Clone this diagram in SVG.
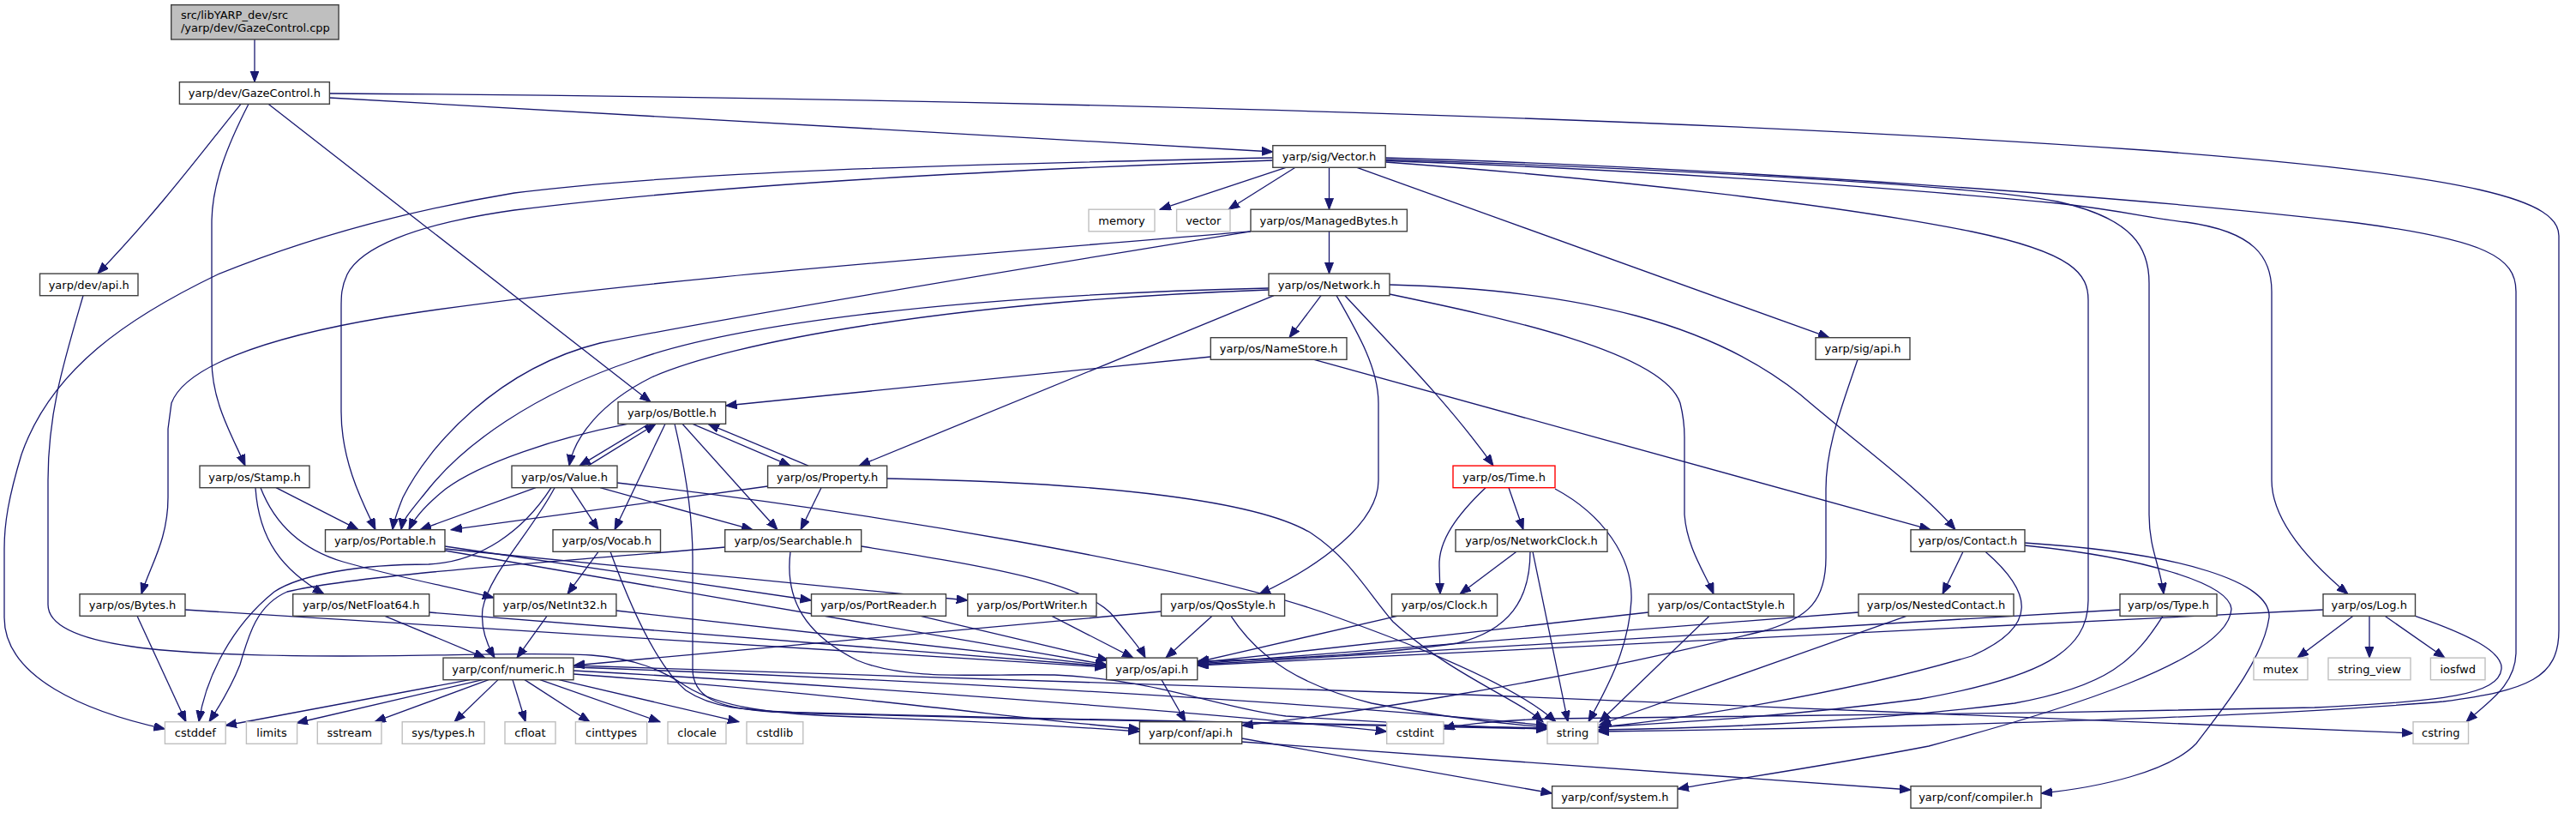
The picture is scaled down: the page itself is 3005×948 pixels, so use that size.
<svg xmlns="http://www.w3.org/2000/svg" width="3005" height="948" viewBox="0 0 3005 948">
<style>
.n rect{fill:#fff;stroke:#404040;stroke-width:1.4}
.s rect{fill:#fff;stroke:#bfbfbf;stroke-width:1.4}
.r rect{fill:#fff;stroke:#ff0000;stroke-width:1.4}
.g rect{fill:#bfbfbf;stroke:#404040;stroke-width:1.4}
text{font-family:"DejaVu Sans","Liberation Sans",sans-serif;font-size:13px;fill:#000}
.c text{text-anchor:middle}
#edges path{fill:none;stroke:#191970;stroke-width:1.3;marker-end:url(#a)}
</style>
<defs>
<marker id="a" markerWidth="14" markerHeight="11" refX="13" refY="5" orient="auto" markerUnits="userSpaceOnUse">
<path d="M0,0 L13,5 L0,10 z" fill="#191970" stroke="#191970" stroke-width="1"/>
</marker>
</defs>
<rect width="3005" height="948" fill="#fff"/>
<g id="edges">
<path d="M297,46 L297,95.7"/>
<path d="M281,121.3 C245,165 190,240 114,319.1"/>
<path d="M290,121.3 C265,170 247,215 247,260 L247,420 C247,470 272,510 286,543.1"/>
<path d="M313,121.3 L759,468.7"/>
<path d="M384.4,114 L1484.8,177"/>
<path d="M384.4,109 C1000,113 1900,132 2500,175 C2900,205 2985,235 2985,275 L2985,735 C2985,790 2950,805 2850,818 C2600,840 2100,850 1864,853"/>
<path d="M97,344.7 C75,420 56,480 56,560 L56,705 C56,755 200,765 400,765 C520,765 620,760 690,764 C740,768 770,780 800,800 C840,825 900,833 1000,836 C1150,841 1260,848 1329.4,853"/>
<path d="M1500,195.3 L1353,244.2"/>
<path d="M1511,195.3 L1433,244.2"/>
<path d="M1550.5,195.3 L1550.5,244.2"/>
<path d="M1484.8,184 C1100,192 800,200 600,225 C450,250 340,285 254,320 C150,370 60,430 25,530 C10,580 5,610 5,640 L5,720 C5,790 100,830 192.4,850"/>
<path d="M1484.8,187 C1100,200 800,220 600,245 C480,262 420,290 405,320 C398,335 398,345 398,360 L398,480 C398,540 425,590 438,617.7"/>
<path d="M1583,195.3 L2134,393.7"/>
<path d="M1616.2,189 C1900,210 2150,240 2300,270 C2420,295 2436,320 2436,350 L2436,700 C2436,760 2380,790 2240,815 C2050,840 1900,845 1864,848"/>
<path d="M1616.2,186 C1900,195 2300,215 2400,235 C2490,255 2507,290 2507,330 L2507,600 C2507,640 2520,660 2524,692.7"/>
<path d="M1616.2,187.5 C1900,197 2200,218 2400,237 C2480,246 2510,255 2550,259 C2630,270 2650,300 2650,340 L2650,560 C2650,610 2700,660 2739,692.7"/>
<path d="M1616.2,184 C2000,195 2500,230 2750,260 C2900,280 2935,300 2935,340 L2935,760 C2935,800 2900,820 2877,841.7"/>
<path d="M1459,269.8 C1100,300 700,330 450,370 C300,395 215,430 200,470 L196,500 L196,580 C196,630 175,660 165,692.7"/>
<path d="M1459,269.8 C1150,320 850,370 700,400 C580,430 500,520 470,580 C462,600 459,610 458,617.7"/>
<path d="M1550.5,269.8 L1550.5,319.1"/>
<path d="M1541,344.7 L1504,393.7"/>
<path d="M1486,344.7 L1002,543.1"/>
<path d="M1480,336 C1100,345 850,380 740,420 C620,460 540,520 500,570 C480,595 470,605 468,617.7"/>
<path d="M1480,338 C1100,352 850,400 760,440 C700,470 670,510 664,543.1"/>
<path d="M1569,344.7 C1620,400 1690,470 1742,543.1"/>
<path d="M1559,344.7 C1585,390 1608,430 1608,470 L1608,560 C1608,610 1540,660 1469,692.7"/>
<path d="M1621,343 C1750,370 1940,410 1960,470 C1965,490 1965,500 1965,510 L1965,600 C1968,640 1990,670 1999,692.7"/>
<path d="M1621,332 C1850,338 2000,380 2100,460 C2170,520 2240,570 2281,617.7"/>
<path d="M1412.3,416 L846.6,473"/>
<path d="M1533,419.3 L2252,617.7"/>
<path d="M2167,419.3 C2150,470 2130,520 2130,570 L2130,650 C2130,700 2110,720 2060,735 C1800,800 1550,835 1448.7,846"/>
<path d="M808,494.3 L922,543.1"/>
<path d="M943,543.1 L826,494.3"/>
<path d="M796,494.3 L907,617.7"/>
<path d="M776,494.3 L717,617.7"/>
<path d="M757,494.3 L676,543.1"/>
<path d="M686,543.1 L765,494.3"/>
<path d="M732,494.3 C650,510 560,540 520,570 C495,590 483,605 477,617.7"/>
<path d="M787,494.3 C800,550 808,600 808,650 L808,780 C808,812 835,826 900,830 C1200,838 1600,846 1805,849"/>
<path d="M322,568.7 L418,617.7"/>
<path d="M298,568.7 C302,630 330,665 378,692.7"/>
<path d="M304,568.7 C320,610 350,640 400,655 C470,675 530,685 576,697"/>
<path d="M519,637 L946.5,700"/>
<path d="M519,640 L1128.8,700"/>
<path d="M519,642 L1290.7,775"/>
<path d="M625,568.7 L490,617.7"/>
<path d="M666,568.7 L698,617.7"/>
<path d="M700,568.7 L878,617.7"/>
<path d="M720,563 C1000,595 1400,660 1560,720 C1700,770 1780,810 1815,841.7"/>
<path d="M647,568.7 C620,620 570,670 563,710 C560,735 570,755 577,767.1"/>
<path d="M643,568.7 C610,620 560,655 500,658 C420,658 350,670 320,690 C270,730 240,790 232,841.7"/>
<path d="M895.6,567 L526,617.7"/>
<path d="M958,568.7 L934,617.7"/>
<path d="M1034.7,558 C1300,563 1470,585 1530,622 C1575,652 1595,690 1625,725 C1690,785 1770,815 1800,841.7"/>
<path d="M698,643.3 L662,692.7"/>
<path d="M712,643.3 C740,720 770,780 800,805 C830,825 860,828 950,832 C1250,840 1600,846 1805,850"/>
<path d="M160,718.3 L217,841.7"/>
<path d="M216,711 L1290.7,778"/>
<path d="M449,718.3 L566,767.1"/>
<path d="M500.7,714 L1290.7,777"/>
<path d="M638,718.3 L603,767.1"/>
<path d="M718.9,712 L1290.7,776"/>
<path d="M1004.7,637 C1150,660 1270,680 1300,720 C1320,745 1330,755 1336,767.1"/>
<path d="M922,643.3 C915,700 940,740 1000,770 C1060,795 1150,785 1230,787 C1350,792 1420,825 1500,835 C1650,845 1750,848 1805,850"/>
<path d="M845.7,638 C650,655 420,670 335,690 C300,705 290,740 280,775 C270,800 255,825 244,841.7"/>
<path d="M1074,718.3 L1293,770"/>
<path d="M1227,718.3 L1322,767.1"/>
<path d="M1414,718.3 L1360,767.1"/>
<path d="M1354.6,713 L669,776"/>
<path d="M1436,718.3 C1470,770 1520,800 1600,820 C1700,840 1780,846 1805,848"/>
<path d="M1630,718.3 L1396.8,772"/>
<path d="M1769,643.3 L1703,692.7"/>
<path d="M1788,643.3 L1829,841.7"/>
<path d="M1785,643.3 C1785,700 1760,735 1700,750 C1600,765 1450,770 1396.8,771"/>
<path d="M1760,568.7 L1777,617.7"/>
<path d="M1733,568.7 C1700,600 1678,630 1679,660 L1680,692.7"/>
<path d="M1814,570 C1870,600 1905,650 1903,700 C1900,760 1870,810 1853,841.7"/>
<path d="M1923,714 L1396.8,773"/>
<path d="M1994,718.3 L1866,841.7"/>
<path d="M2290,643.3 L2266,692.7"/>
<path d="M2316,643.3 C2370,690 2380,730 2300,765 C2150,810 1950,840 1864,848"/>
<path d="M2362,636 C2500,650 2600,680 2603,710 C2600,770 2400,830 2250,870 C2120,895 2000,912 1957,920"/>
<path d="M2362,633 C2550,645 2650,680 2647,720 C2640,770 2590,830 2562,867 C2530,900 2450,918 2381,925"/>
<path d="M2168,714 L1396.8,774"/>
<path d="M2224,718.3 L1866,845"/>
<path d="M2473,711 L1396.8,775"/>
<path d="M2523,718.3 C2490,770 2460,800 2350,820 C2150,845 1950,850 1864,851"/>
<path d="M2710,711 L1396.8,776"/>
<path d="M2745,718.3 L2680,767.1"/>
<path d="M2764,718.3 L2764,767.1"/>
<path d="M2782,718.3 L2852,767.1"/>
<path d="M2817.5,718.3 C2880,740 2920,760 2918,780 C2915,810 2850,818 2700,825 C2400,832 2000,836 1810,838 C1750,840 1700,845 1684,850"/>
<path d="M548,792.6 L263,846"/>
<path d="M563,792.6 L346,843"/>
<path d="M570,792.6 L437,841.7"/>
<path d="M581,792.6 L530,841.7"/>
<path d="M598,792.6 L613,841.7"/>
<path d="M612,792.6 L688,841.7"/>
<path d="M630,792.6 L770,841.7"/>
<path d="M652,792.6 L862,841.7"/>
<path d="M669,778 C1000,790 1500,815 1805,846"/>
<path d="M669,782 C1000,800 1400,830 1617.7,853"/>
<path d="M669,776 C1200,790 2300,830 2815,855"/>
<path d="M669,786 C1000,810 1200,840 1329.4,850"/>
<path d="M1355,792.6 L1383,841.7"/>
<path d="M1448.7,861 L1810.6,925"/>
<path d="M1448.7,865 L2229,921"/>
</g>
<g id="node-cpp" class="g"><rect x="199.7" y="5.7" width="195.4" height="40.3"/><text x="210.9" y="22.3">src/libYARP_dev/src</text><text x="210.9" y="37.3">/yarp/dev/GazeControl.cpp</text></g>
<g id="node-gaze" class="n c"><rect x="209.4" y="95.7" width="175" height="25.6"/><text x="296.9" y="113.2">yarp/dev/GazeControl.h</text></g>
<g id="node-vectorh" class="n c"><rect x="1484.8" y="169.7" width="131.4" height="25.6"/><text x="1550.5" y="187.2">yarp/sig/Vector.h</text></g>
<g id="node-memory" class="s c"><rect x="1270" y="244.2" width="77" height="25.6"/><text x="1308.5" y="261.7">memory</text></g>
<g id="node-vector" class="s c"><rect x="1372.6" y="244.2" width="62.4" height="25.6"/><text x="1403.8" y="261.7">vector</text></g>
<g id="node-managed" class="n c"><rect x="1459" y="244.2" width="182.4" height="25.6"/><text x="1550.2" y="261.7">yarp/os/ManagedBytes.h</text></g>
<g id="node-devapi" class="n c"><rect x="46.5" y="319.1" width="114.5" height="25.6"/><text x="103.75" y="336.6">yarp/dev/api.h</text></g>
<g id="node-network" class="n c"><rect x="1480" y="319.1" width="141" height="25.6"/><text x="1550.5" y="336.6">yarp/os/Network.h</text></g>
<g id="node-namestore" class="n c"><rect x="1412.3" y="393.7" width="158.7" height="25.6"/><text x="1491.65" y="411.2">yarp/os/NameStore.h</text></g>
<g id="node-sigapi" class="n c"><rect x="2118" y="393.7" width="110" height="25.6"/><text x="2173" y="411.2">yarp/sig/api.h</text></g>
<g id="node-bottle" class="n c"><rect x="721" y="468.7" width="125.6" height="25.6"/><text x="783.8" y="486.2">yarp/os/Bottle.h</text></g>
<g id="node-stamp" class="n c"><rect x="233" y="543.1" width="128" height="25.6"/><text x="297" y="560.6">yarp/os/Stamp.h</text></g>
<g id="node-value" class="n c"><rect x="597" y="543.1" width="123" height="25.6"/><text x="658.5" y="560.6">yarp/os/Value.h</text></g>
<g id="node-property" class="n c"><rect x="895.6" y="543.1" width="139.1" height="25.6"/><text x="965.15" y="560.6">yarp/os/Property.h</text></g>
<g id="node-time" class="r c"><rect x="1695" y="543.1" width="119" height="25.6"/><text x="1754.5" y="560.6">yarp/os/Time.h</text></g>
<g id="node-portable" class="n c"><rect x="379.5" y="617.7" width="139.5" height="25.6"/><text x="449.25" y="635.2">yarp/os/Portable.h</text></g>
<g id="node-vocab" class="n c"><rect x="645" y="617.7" width="125.5" height="25.6"/><text x="707.75" y="635.2">yarp/os/Vocab.h</text></g>
<g id="node-searchable" class="n c"><rect x="845.7" y="617.7" width="159" height="25.6"/><text x="925.2" y="635.2">yarp/os/Searchable.h</text></g>
<g id="node-netclock" class="n c"><rect x="1698" y="617.7" width="177" height="25.6"/><text x="1786.5" y="635.2">yarp/os/NetworkClock.h</text></g>
<g id="node-contact" class="n c"><rect x="2229" y="617.7" width="133" height="25.6"/><text x="2295.5" y="635.2">yarp/os/Contact.h</text></g>
<g id="node-bytes" class="n c"><rect x="93" y="692.7" width="123" height="25.6"/><text x="154.5" y="710.2">yarp/os/Bytes.h</text></g>
<g id="node-netfloat" class="n c"><rect x="341.7" y="692.7" width="159" height="25.6"/><text x="421.2" y="710.2">yarp/os/NetFloat64.h</text></g>
<g id="node-netint" class="n c"><rect x="575.9" y="692.7" width="143" height="25.6"/><text x="647.4" y="710.2">yarp/os/NetInt32.h</text></g>
<g id="node-portreader" class="n c"><rect x="946.5" y="692.7" width="157" height="25.6"/><text x="1025" y="710.2">yarp/os/PortReader.h</text></g>
<g id="node-portwriter" class="n c"><rect x="1128.8" y="692.7" width="150.2" height="25.6"/><text x="1203.9" y="710.2">yarp/os/PortWriter.h</text></g>
<g id="node-qos" class="n c"><rect x="1354.6" y="692.7" width="144" height="25.6"/><text x="1426.6" y="710.2">yarp/os/QosStyle.h</text></g>
<g id="node-clock" class="n c"><rect x="1623.5" y="692.7" width="123.1" height="25.6"/><text x="1685.05" y="710.2">yarp/os/Clock.h</text></g>
<g id="node-contactstyle" class="n c"><rect x="1923" y="692.7" width="169.7" height="25.6"/><text x="2007.85" y="710.2">yarp/os/ContactStyle.h</text></g>
<g id="node-nested" class="n c"><rect x="2168" y="692.7" width="181" height="25.6"/><text x="2258.5" y="710.2">yarp/os/NestedContact.h</text></g>
<g id="node-type" class="n c"><rect x="2473" y="692.7" width="113" height="25.6"/><text x="2529.5" y="710.2">yarp/os/Type.h</text></g>
<g id="node-log" class="n c"><rect x="2710" y="692.7" width="107.5" height="25.6"/><text x="2763.75" y="710.2">yarp/os/Log.h</text></g>
<g id="node-numeric" class="n c"><rect x="517" y="767.1" width="152" height="25.6"/><text x="593" y="784.6">yarp/conf/numeric.h</text></g>
<g id="node-osapi" class="n c"><rect x="1290.7" y="767.1" width="106.1" height="25.6"/><text x="1343.75" y="784.6">yarp/os/api.h</text></g>
<g id="node-mutex" class="s c"><rect x="2629" y="767.1" width="63" height="25.6"/><text x="2660.5" y="784.6">mutex</text></g>
<g id="node-stringview" class="s c"><rect x="2716" y="767.1" width="96" height="25.6"/><text x="2764" y="784.6">string_view</text></g>
<g id="node-iosfwd" class="s c"><rect x="2835.4" y="767.1" width="63.6" height="25.6"/><text x="2867.2" y="784.6">iosfwd</text></g>
<g id="node-cstddef" class="s c"><rect x="192.4" y="841.7" width="70.8" height="25.6"/><text x="227.8" y="859.2">cstddef</text></g>
<g id="node-limits" class="s c"><rect x="287.4" y="841.7" width="59.2" height="25.6"/><text x="317" y="859.2">limits</text></g>
<g id="node-sstream" class="s c"><rect x="370.3" y="841.7" width="74.7" height="25.6"/><text x="407.65" y="859.2">sstream</text></g>
<g id="node-systypes" class="s c"><rect x="469.2" y="841.7" width="96" height="25.6"/><text x="517.2" y="859.2">sys/types.h</text></g>
<g id="node-cfloat" class="s c"><rect x="589" y="841.7" width="59" height="25.6"/><text x="618.5" y="859.2">cfloat</text></g>
<g id="node-cinttypes" class="s c"><rect x="671.4" y="841.7" width="83.3" height="25.6"/><text x="713.05" y="859.2">cinttypes</text></g>
<g id="node-clocale" class="s c"><rect x="779" y="841.7" width="68" height="25.6"/><text x="813" y="859.2">clocale</text></g>
<g id="node-cstdlib" class="s c"><rect x="871" y="841.7" width="65.8" height="25.6"/><text x="903.9" y="859.2">cstdlib</text></g>
<g id="node-confapi" class="n c"><rect x="1329.4" y="841.7" width="119.3" height="25.6"/><text x="1389.05" y="859.2">yarp/conf/api.h</text></g>
<g id="node-cstdint" class="s c"><rect x="1617.7" y="841.7" width="66.3" height="25.6"/><text x="1650.85" y="859.2">cstdint</text></g>
<g id="node-string" class="s c"><rect x="1805" y="841.7" width="59" height="25.6"/><text x="1834.5" y="859.2">string</text></g>
<g id="node-cstring" class="s c"><rect x="2815" y="841.7" width="64.5" height="25.6"/><text x="2847.25" y="859.2">cstring</text></g>
<g id="node-system" class="n c"><rect x="1810.6" y="916.7" width="146.4" height="25.6"/><text x="1883.8" y="934.2">yarp/conf/system.h</text></g>
<g id="node-compiler" class="n c"><rect x="2229" y="916.7" width="152" height="25.6"/><text x="2305" y="934.2">yarp/conf/compiler.h</text></g>
</svg>
